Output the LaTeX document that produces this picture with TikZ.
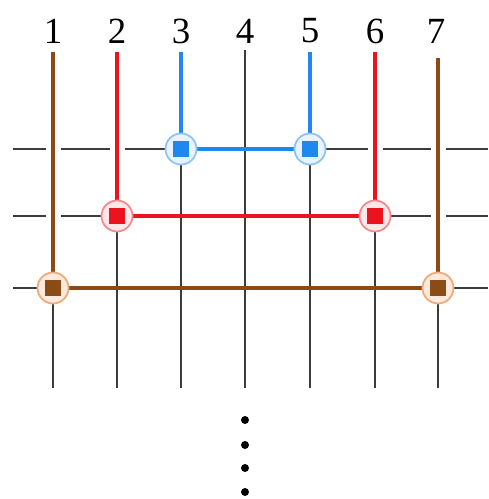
\documentclass[tikz,border=0pt]{standalone}
\usepackage{fontspec}
\setmainfont{Liberation Serif}
\definecolor{wbrown}{RGB}{140,75,20}
\definecolor{wred}{RGB}{235,20,30}
\definecolor{wblue}{RGB}{30,135,240}
\definecolor{wgray}{RGB}{60,60,60}
\definecolor{wtan}{RGB}{240,170,120}
\begin{document}
\begin{tikzpicture}[
	x=0.02cm, y=-0.02cm,
	num/.style={font=\fontsize{21}{22}\selectfont, inner sep=0pt},
	grid/.style={wgray, line width=1.1pt},
	wire/.style={line width=2pt, preaction={draw=white, line width=0.3cm}},
	link/.style={line width=2pt},
	ring/.style={circle, minimum size=0.62cm, inner sep=0pt, line width=1pt},
	cell/.style={rectangle, minimum size=0.32cm, inner sep=0pt},
	dot/.style={circle, fill=black, minimum size=0.16cm, inner sep=0pt},
	]
	\useasboundingbox (0,0) rectangle (488,499);
	
	% column labels
	\node[num] (l1) at ( 53, 31) {1};
	\node[num] (l2) at (117, 31) {2};
	\node[num] (l3) at (181, 31) {3};
	\node[num] (l4) at (245, 31) {4};
	\node[num] (l5) at (310, 31) {5};
	\node[num] (l6) at (375, 31) {6};
	\node[num] (l7) at (436, 31) {7};
	
	% ends of the lines
	\coordinate (t1) at ( 53, 52);  \coordinate (b1) at ( 53, 388);
	\coordinate (t2) at (117, 52);  \coordinate (b2) at (117, 388);
	\coordinate (t3) at (181, 52);  \coordinate (b3) at (181, 388);
	\coordinate (t4) at (245, 50);  \coordinate (b4) at (245, 388);
	\coordinate (t5) at (310, 52);  \coordinate (b5) at (310, 388);
	\coordinate (t6) at (375, 52);  \coordinate (b6) at (375, 388);
	\coordinate (t7) at (438, 58);  \coordinate (b7) at (438, 388);
	\coordinate (r1w) at (13, 149); \coordinate (r1e) at (488, 149);
	\coordinate (r2w) at (13, 216); \coordinate (r2e) at (488, 216);
	\coordinate (r3w) at (13, 288); \coordinate (r3e) at (488, 288);
	
	% crossings
	\coordinate (c3) at (181, 149); \coordinate (c5) at (310, 149);
	\coordinate (c2) at (117, 216); \coordinate (c6) at (375, 216);
	\coordinate (c1) at ( 53, 288); \coordinate (c7) at (438, 288);
	
	% gray grid
	\draw[grid] (r1w) -- (r1e);
	\draw[grid] (r2w) -- (r2e);
	\draw[grid] (r3w) -- (r3e);
	\draw[grid] (t4) -- (b4);
	\draw[grid] (c1) -- (b1);
	\draw[grid] (c2) -- (b2);
	\draw[grid] (c3) -- (b3);
	\draw[grid] (c5) -- (b5);
	\draw[grid] (c6) -- (b6);
	\draw[grid] (c7) -- (b7);
	
	% coloured wires
	\draw[wire, wblue]  (t3) -- (c3);
	\draw[wire, wblue]  (t5) -- (c5);
	\draw[wire, wred]   (t2) -- (c2);
	\draw[wire, wred]   (t6) -- (c6);
	\draw[wire, wbrown] (t1) -- (c1);
	\draw[wire, wbrown] (t7) -- (c7);
	\draw[link, wblue]  (c3) -- (c5);
	\draw[link, wred]   (c2) -- (c6);
	\draw[link, wbrown] (c1) -- (c7);
	
	% markers
	\node[ring, draw=wblue!50, fill=wblue!10] (o3) at (c3) {};
	\node[ring, draw=wblue!50, fill=wblue!10] (o5) at (c5) {};
	\node[ring, draw=wred!50, fill=wred!10] (o2) at (c2) {};
	\node[ring, draw=wred!50, fill=wred!10] (o6) at (c6) {};
	\node[ring, draw=wtan, fill=wtan!25] (o1) at (c1) {};
	\node[ring, draw=wtan, fill=wtan!25] (o7) at (c7) {};
	\node[cell, fill=wblue] (q3) at (c3) {};
	\node[cell, fill=wblue] (q5) at (c5) {};
	\node[cell, fill=wred] (q2) at (c2) {};
	\node[cell, fill=wred] (q6) at (c6) {};
	\node[cell, fill=wbrown] (q1) at (c1) {};
	\node[cell, fill=wbrown] (q7) at (c7) {};
	
	% vertical dots
	\node[dot] (d1) at (245, 420) {};
	\node[dot] (d2) at (245, 445) {};
	\node[dot] (d3) at (245, 468) {};
	\node[dot] (d4) at (245, 492) {};
	
\end{tikzpicture}
\end{document}
